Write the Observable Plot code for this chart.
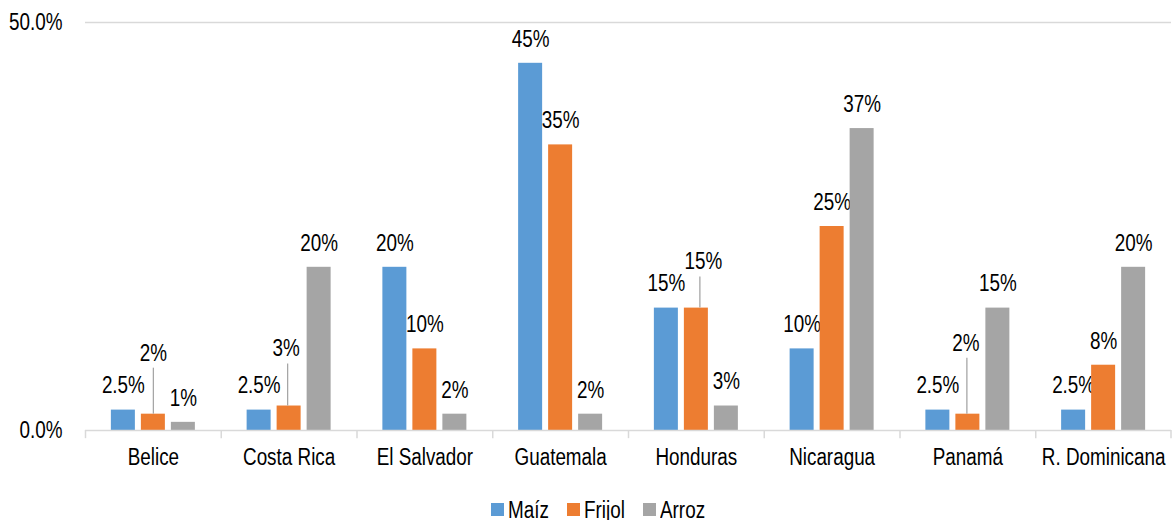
<!DOCTYPE html>
<html>
<head>
<meta charset="utf-8">
<script src="https://cdn.jsdelivr.net/npm/d3@7"></script>
<script src="https://cdn.jsdelivr.net/npm/@observablehq/plot@0.6"></script>
<style>
  body { margin: 0; background: #fff; }
  #chart svg { display: block; }
  #legend { margin-top: 19px; padding-left: 491px; line-height: 23px; font-size: 23px; color: #000; white-space: nowrap;
            font-family: "Liberation Sans", Arial, sans-serif; }
  #legend .item { display: inline-block; margin-right: 18px; }
  #legend .sw { display: inline-block; width: 13px; height: 13px; margin-right: 4px; vertical-align: 2px; }
  #legend .tx { display: inline-block; transform: scaleX(0.82); transform-origin: 0 0; }
</style>
</head>
<body>
<div id="chart"></div>
<div id="legend"></div>
<script>
// ---- data ----
const countries = ["Belice", "Costa Rica", "El Salvador", "Guatemala", "Honduras", "Nicaragua", "Panamá", "R. Dominicana"];
const series = ["Maíz", "Frijol", "Arroz"];
const maiz   = [2.5, 2.5, 20, 45, 15, 10, 2.5, 2.5];
const frijol = [2, 3, 10, 35, 15, 25, 2, 8];
const arroz  = [1, 20, 2, 2, 3, 37, 15, 20];
const yTicks = [0, 50];
const colors = ["#5B9BD5", "#ED7D31", "#A5A5A5"];

// ---- font: Arial Narrow look emulated by horizontally squeezing Liberation Sans ----
const FONT = '"Liberation Sans", Arial, sans-serif';
const FS = 23;
const SQUEEZE = 0.82;

// ---- table ----
const valuesBySeries = [maiz, frijol, arroz];
const table = countries.flatMap((c, i) => series.map((s, j) => ({country: c, series: s, value: valuesBySeries[j][i]})));

// ---- layout ----
const W = 1172, H = 480, mL = 85, mR = 1, mT = 22, mB = 50;
const band = (W - mL - mR) / countries.length;
const barW = 24, step = 30;
const inset = (band - barW) / 2;
const pxPerUnit = (H - mT - mB) / 50;
const offsets = [-step, 0, step];
const labelGap = 24;

// labels pulled away from their bars with leader lines: [country, series, lift px, shift px]
const callouts = [
  ["Belice", "Frijol", 61, 0],
  ["Costa Rica", "Frijol", 57, -3],
  ["Honduras", "Frijol", 46, 7],
  ["Panamá", "Frijol", 71, -2]
];
const isCallout = d => callouts.some(c => c[0] === d.country && c[1] === d.series);

const marks = [
  Plot.ruleY([50], {stroke: "#D9D9D9", strokeWidth: 1.5})
];
series.forEach((s, j) => {
  const rows = table.filter(d => d.series === s);
  marks.push(Plot.barY(rows, {x: "country", y: "value", fill: colors[j], dx: offsets[j], insetLeft: inset, insetRight: inset}));
  marks.push(Plot.text(rows.filter(d => !isCallout(d)), {
    x: "country", y: "value", text: d => `${d.value}%`, dx: offsets[j], dy: -labelGap,
    fontSize: FS, fill: "#000"
  }));
});
callouts.forEach(([c, s, lift, shift]) => {
  const j = series.indexOf(s);
  const rows = table.filter(d => d.country === c && d.series === s);
  marks.push(Plot.text(rows, {
    x: "country", y: "value", text: d => `${d.value}%`, dx: offsets[j] + shift, dy: -lift,
    fontSize: FS, fill: "#000"
  }));
  marks.push(Plot.ruleX(rows, {
    x: "country", y1: "value", y2: d => d.value + (lift - 15) / pxPerUnit,
    dx: offsets[j] + shift / 2, stroke: "#A6A6A6", strokeWidth: 1.3
  }));
});
marks.push(Plot.ruleY([0], {stroke: "#D9D9D9", strokeWidth: 1.5}));
marks.push(Plot.ruleX(countries, {x: d => d, y1: 0, y2: -1, dx: -band / 2, stroke: "#D9D9D9", strokeWidth: 1.5}));
marks.push(Plot.ruleX(countries.slice(-1), {x: d => d, y1: 0, y2: -1, dx: band / 2 - 0.5, stroke: "#D9D9D9", strokeWidth: 1.5}));

const chart = Plot.plot({
  width: W, height: H,
  marginLeft: mL, marginRight: mR, marginTop: mT, marginBottom: mB,
  style: {fontFamily: FONT, fontSize: FS + "px", color: "#000", background: "#fff"},
  x: {domain: countries, padding: 0, round: false, label: null, tickSize: 0, tickPadding: 18},
  y: {domain: [0, 50], ticks: yTicks, tickFormat: d => d.toFixed(1) + "%", tickSize: 0, tickPadding: 23, label: null},
  marks
});
document.getElementById("chart").appendChild(chart);

// squeeze all svg texts horizontally (narrow face)
chart.querySelectorAll("text").forEach(t => {
  const len = t.getComputedTextLength();
  if (len > 0) {
    t.setAttribute("textLength", (len * SQUEEZE).toFixed(2));
    t.setAttribute("lengthAdjust", "spacingAndGlyphs");
  }
});

// ---- legend ----
const legend = document.getElementById("legend");
series.forEach((s, j) => {
  const item = document.createElement("span");
  item.className = "item";
  const sw = document.createElement("span");
  sw.className = "sw";
  sw.style.background = colors[j];
  const tx = document.createElement("span");
  tx.className = "tx";
  tx.textContent = s;
  item.appendChild(sw);
  item.appendChild(tx);
  legend.appendChild(item);
  tx.style.marginRight = (-(1 - SQUEEZE) * tx.offsetWidth).toFixed(1) + "px";
});
</script>
</body>
</html>
